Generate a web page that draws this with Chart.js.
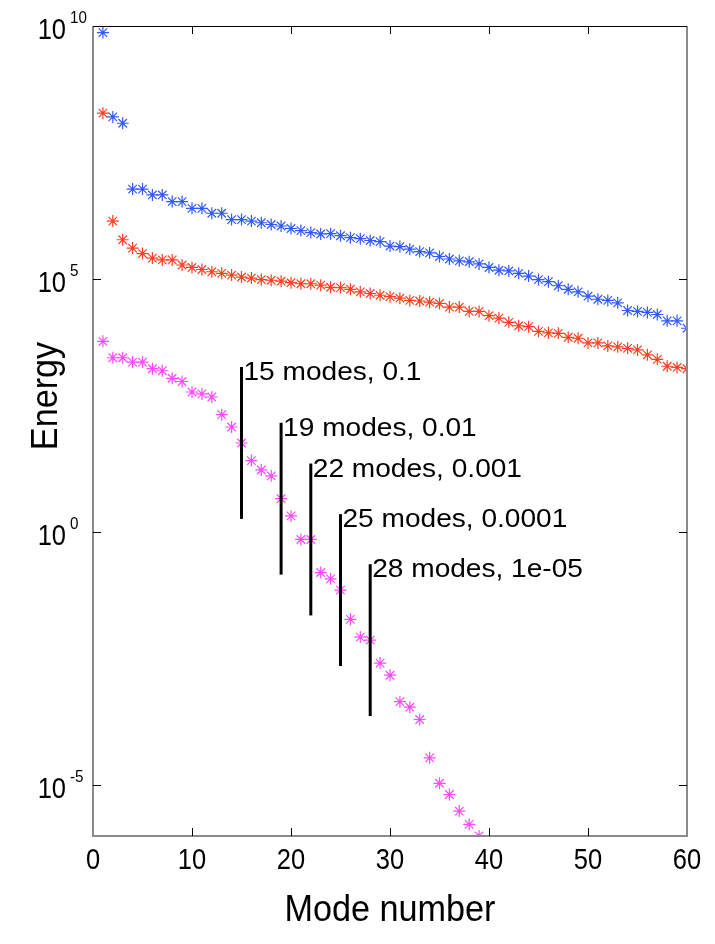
<!DOCTYPE html>
<html lang="en">
<head>
  <meta charset="UTF-8">
  <title>Energy per mode</title>
  <script src="https://cdn.jsdelivr.net/npm/chart.js"></script>
  <style>
    body { margin: 0; background: #fff; }
    #wrap { width: 715px; height: 944px; }
  </style>
</head>
<body>
<div id="wrap"><canvas id="grafico" width="715" height="944"></canvas></div>

<script>
// mode numbers (x)
const modes = [1,2,3,4,5,6,7,8,9,10,11,12,13,14,15,16,17,18,19,20,
  21,22,23,24,25,26,27,28,29,30,31,32,33,34,35,36,37,38,39,40,
  41,42,43,44,45,46,47,48,49,50,51,52,53,54,55,56,57,58,59,60];

// energy per mode
const blueEnergy = [7.4e9,1.6e8,1.2e8,6.0e6,6.0e6,4.6e6,4.6e6,3.4e6,3.4e6,2.5e6,
  2.5e6,2.0e6,2.0e6,1.5e6,1.5e6,1.4e6,1.3e6,1.2e6,1.12e6,1.0e6,
  9.1e5,8.3e5,7.8e5,7.9e5,7.2e5,6.6e5,6.3e5,5.8e5,5.5e5,4.5e5,
  4.4e5,3.9e5,3.5e5,3.3e5,2.8e5,2.5e5,2.3e5,2.2e5,2.0e5,1.7e5,
  1.5e5,1.45e5,1.3e5,1.15e5,9.8e4,8.9e4,7.4e4,6.3e4,5.6e4,4.6e4,
  4.0e4,3.8e4,3.4e4,2.4e4,2.3e4,2.2e4,2.0e4,1.5e4,1.5e4,1.07e4];

const redEnergy = [1.9e8,1.4e6,6.0e5,4.1e5,3.2e5,2.6e5,2.4e5,2.4e5,1.9e5,1.7e5,
  1.55e5,1.4e5,1.3e5,1.2e5,1.1e5,1.05e5,9.8e4,9.5e4,9.1e4,8.5e4,
  8.1e4,8.1e4,7.6e4,6.9e4,6.8e4,6.3e4,5.6e4,5.2e4,4.8e4,4.5e4,
  4.2e4,3.8e4,3.7e4,3.5e4,3.3e4,2.8e4,2.8e4,2.3e4,2.3e4,1.9e4,
  1.7e4,1.4e4,1.2e4,1.15e4,9.3e3,8.7e3,8.5e3,7.1e3,6.8e3,5.5e3,
  5.5e3,4.8e3,4.6e3,4.3e3,4.0e3,3.2e3,2.6e3,1.9e3,1.8e3,1.7e3];

const magentaEnergy = [5.9e3,2.8e3,2.8e3,2.3e3,2.3e3,1.7e3,1.55e3,1.1e3,950,590,
  540,470,210,120,58,26,17,13,4.6,2.1,
  0.72,0.72,0.16,0.12,0.072,0.019,0.0085,0.0074,0.0026,0.0015,
  4.5e-4,3.5e-4,2.0e-4,3.5e-5,1.1e-5,6.6e-6,3.1e-6,1.7e-6,1.0e-6];

// axis ticks
const xTicks = [0,10,20,30,40,50,60];
const yTicks = [1e-5,1,1e5,1e10];
const yTickExp = ['-5','0','5','10'];

// truncation marks
const cutModes = [15,19,22,25,28];
const cutLabels = ['15 modes, 0.1','19 modes, 0.01','22 modes, 0.001','25 modes, 0.0001','28 modes, 1e-05'];

const FONT = '"Liberation Sans", Arial, sans-serif';

function pts(vals) {
  return vals.map((v, i) => ({ x: modes[i], y: v }));
}

// draws text squeezed horizontally by sx, optionally rotated
function texto(ctx, t, x, y, size, sx, align, rot) {
  ctx.save();
  ctx.translate(x, y);
  if (rot) ctx.rotate(rot);
  ctx.scale(sx, 1);
  ctx.font = size + 'px ' + FONT;
  ctx.textAlign = align;
  ctx.textBaseline = 'alphabetic';
  ctx.fillStyle = '#000';
  ctx.fillText(t, 0, 0);
  ctx.restore();
}

const moldura = {
  id: 'moldura',
  afterDatasetsDraw(chart) {
    const ctx = chart.ctx;
    const a = chart.chartArea;
    const x = chart.scales.x, y = chart.scales.y;
    ctx.save();

    // vertical marks spanning 1.5 decades each side of the point
    const span = Math.pow(10, 1.5);
    ctx.strokeStyle = '#000';
    ctx.lineWidth = 3;
    cutModes.forEach((m, i) => {
      const v = magentaEnergy[m - 1];
      const px = x.getPixelForValue(m);
      const top = y.getPixelForValue(v * span);
      const bot = y.getPixelForValue(v / span);
      ctx.beginPath();
      ctx.moveTo(px, top);
      ctx.lineTo(px, bot);
      ctx.stroke();
      texto(ctx, cutLabels[i], px + 2, top + 13, 26, 1.08, 'left');
    });

    // box
    ctx.lineWidth = 2;
    ctx.strokeStyle = '#8a8a8a';
    ctx.beginPath();
    ctx.moveTo(a.left, a.top);
    ctx.lineTo(a.left, a.bottom);
    ctx.lineTo(a.right, a.bottom);
    ctx.lineTo(a.right, a.top);
    ctx.stroke();
    ctx.lineWidth = 1;
    ctx.strokeStyle = '#000';
    ctx.beginPath();
    ctx.moveTo(a.left, a.top + 0.5);
    ctx.lineTo(a.right, a.top + 0.5);
    ctx.stroke();

    // inward ticks
    const tl = 8;
    ctx.beginPath();
    xTicks.forEach(t => {
      const px = Math.round(x.getPixelForValue(t)) + 0.5;
      if (px > a.left + 2 && px < a.right - 2) {
        ctx.moveTo(px, a.bottom); ctx.lineTo(px, a.bottom - tl);
        ctx.moveTo(px, a.top); ctx.lineTo(px, a.top + tl);
      }
      texto(ctx, String(t), x.getPixelForValue(t), a.bottom + 33, 30, 0.85, 'center');
    });
    yTicks.forEach((t, i) => {
      const py = Math.round(y.getPixelForValue(t)) + 0.5;
      if (py > a.top + 2 && py < a.bottom - 2) {
        ctx.moveTo(a.left, py); ctx.lineTo(a.left + tl, py);
        ctx.moveTo(a.right, py); ctx.lineTo(a.right - tl, py);
      }
      texto(ctx, '10', a.left - 27, py + 12, 30, 0.85, 'right');
      texto(ctx, yTickExp[i], a.left - 23, py - 4, 16, 0.95, 'left');
    });
    ctx.stroke();

    // axis titles
    texto(ctx, 'Mode number', (a.left + a.right) / 2, 921, 36, 0.95, 'center');
    texto(ctx, 'Energy', 57, 396, 36, 0.95, 'center', -Math.PI / 2);

    ctx.restore();
  }
};

const estrela = { pointStyle: 'star', pointRadius: 6, pointBorderWidth: 1.2, showLine: false };

new Chart(document.getElementById('grafico'), {
  type: 'scatter',
  data: {
    datasets: [
      Object.assign({ label: 'blue', data: pts(blueEnergy), borderColor: 'rgb(50,90,255)', backgroundColor: 'rgb(50,90,255)' }, estrela),
      Object.assign({ label: 'red', data: pts(redEnergy), borderColor: 'rgb(255,65,35)', backgroundColor: 'rgb(255,65,35)' }, estrela),
      Object.assign({ label: 'magenta', data: pts(magentaEnergy), borderColor: 'rgb(255,75,255)', backgroundColor: 'rgb(255,75,255)' }, estrela)
    ]
  },
  options: {
    responsive: false,
    animation: false,
    layout: { padding: { left: 93, right: 28, top: 26, bottom: 108 } },
    plugins: { legend: { display: false }, tooltip: { enabled: false } },
    scales: {
      x: { type: 'linear', min: 0, max: 60, display: false },
      y: { type: 'logarithmic', min: 1e-6, max: 1e10, display: false }
    }
  },
  plugins: [moldura]
});
</script>
</body>
</html>
